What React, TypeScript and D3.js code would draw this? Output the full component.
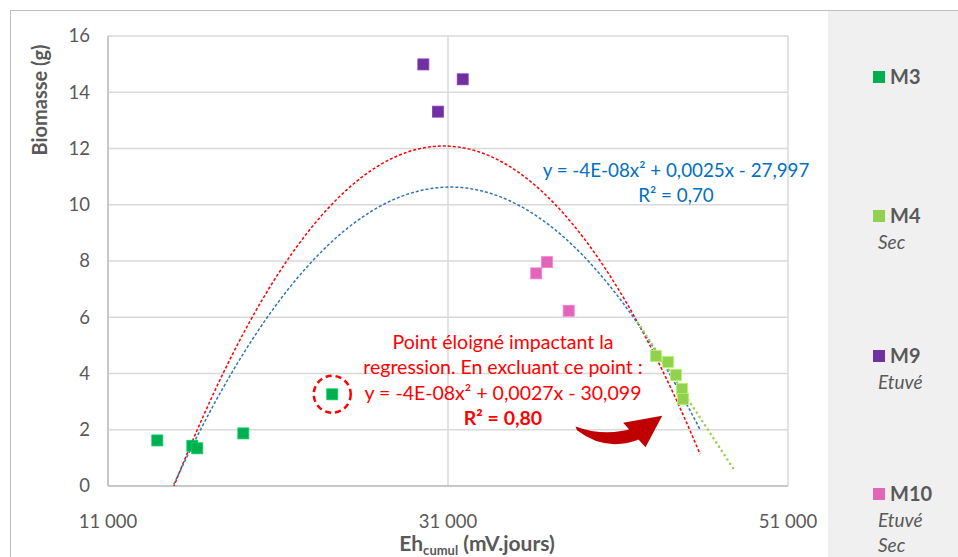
import React from "react";
import * as d3 from "d3";

// ---- data ----
const m3X = [13900, 15960, 16250, 18960, 24190];
const m3Y = [1.62, 1.43, 1.34, 1.87, 3.26];
const m4X = [43235, 43940, 44410, 44765, 44824];
const m4Y = [4.62, 4.41, 3.95, 3.45, 3.09];
const m9X = [29550, 30410, 31865];
const m9Y = [14.99, 13.31, 14.46];
const m10X = [36190, 36820, 38100];
const m10Y = [7.56, 7.96, 6.23];

const yTicks = [0, 2, 4, 6, 8, 10, 12, 14, 16];
const xTicks = [11000, 31000, 51000];

// trendlines (quadratic coefficients a, b, c and drawn x range)
const blueCoef = [-3.995e-8, 0.0024878, -28.102];
const blueRange = [13900, 45824];
const redCoef = [-4.811e-8, 0.0029572, -33.353];
const redRange = [13900, 45824];
const greenCoef = [0, -9.233e-4, 44.74];
const greenRange = [42176, 47765];

const legendNames = ["M3", "M4", "M9", "M10"];
const legendSubs = [[], ["Sec"], ["Etuvé"], ["Etuvé", "Sec"]];
const colors = ["#00b050", "#92d050", "#7030a0", "#e066b8"];

const noteLines = [
  "Point éloigné impactant la",
  "regression. En excluant ce point :",
  "y = -4E-08x² + 0,0027x - 30,099",
  "R² = 0,80",
];
const blueEq = ["y = -4E-08x² + 0,0025x - 27,997", "R² = 0,70"];

const W = 958;
const H = 557;
const FONT = "Lato, 'Open Sans', sans-serif";

export default function App() {
  const x = d3.scaleLinear().domain([11000, 51000]).range([108, 788]);
  const y = d3.scaleLinear().domain([0, 16]).range([486, 36]);
  const fmt = d3.formatLocale({ decimal: ",", thousands: " ", grouping: [3], currency: ["", ""] }).format(",d");

  const series = [
    { xs: m3X, ys: m3Y, color: colors[0] },
    { xs: m4X, ys: m4Y, color: colors[1] },
    { xs: m9X, ys: m9Y, color: colors[2] },
    { xs: m10X, ys: m10Y, color: colors[3] },
  ];

  const poly = (c: number[], r: number[]) => {
    const pts = d3.range(r[0], r[1] + 1, (r[1] - r[0]) / 200).map((v) => [v, c[0] * v * v + c[1] * v + c[2]] as [number, number]);
    return d3.line<[number, number]>().x((d) => x(d[0])).y((d) => y(d[1]))(pts) || "";
  };

  const ms = 11;
  const excl = { x: m3X[4], y: m3Y[4] };

  // arrow (annotation) in data coordinates
  const ax = (v: number) => x(v);
  const ay = (v: number) => y(v);
  const arrowBody = `M${ax(38590)},${ay(1.98)} Q${ax(40350)},${ay(1.15)} ${ax(42470)},${ay(1.72)} L${ax(42000)},${ay(2.08)} Q${ax(40300)},${ay(1.72)} ${ax(38500)},${ay(2.12)} Z`;
  const arrowHead = `M${ax(41300)},${ay(2.25)} L${ax(43600)},${ay(2.5)} L${ax(42620)},${ay(1.38)} Z`;

  return (
    <svg width={W} height={H} style={{ position: "absolute", left: 0, top: 0, background: "#fff" }} fontFamily={FONT}>
      <defs>
        <clipPath id="plotclip">
          <rect x={108} y={36} width={680} height={450} />
        </clipPath>
      </defs>
      {/* frame */}
      <rect x={828} y={11} width={130} height={546} fill="#f0f0f0" />
      <line x1={10} y1={10.5} x2={958} y2={10.5} stroke="#bfbfbf" strokeWidth={1} />
      <line x1={10.5} y1={10} x2={10.5} y2={557} stroke="#bfbfbf" strokeWidth={1} />

      {/* grid */}
      {yTicks.map((t) => (
        <line key={"gy" + t} x1={x(11000)} x2={x(51000)} y1={y(t)} y2={y(t)} stroke="#d9d9d9" strokeWidth={1.5} />
      ))}
      {xTicks.map((t) => (
        <line key={"gx" + t} x1={x(t)} x2={x(t)} y1={y(0)} y2={y(16)} stroke="#d9d9d9" strokeWidth={1.5} />
      ))}
      <line x1={x(11000)} x2={x(51000)} y1={y(0)} y2={y(0)} stroke="#bfbfbf" strokeWidth={1.5} />
      <line x1={x(11000)} x2={x(11000)} y1={y(0)} y2={y(16)} stroke="#bfbfbf" strokeWidth={1.5} />

      {/* tick labels */}
      {yTicks.map((t) => (
        <text key={"ty" + t} x={90} y={y(t)} dy="0.35em" textAnchor="end" fontSize={18.5} fill="#595959">
          {t}
        </text>
      ))}
      {xTicks.map((t) => (
        <text key={"tx" + t} x={x(t)} y={522} dy="0.35em" textAnchor="middle" fontSize={18.5} fill="#595959">
          {fmt(t)}
        </text>
      ))}

      {/* axis titles */}
      <text x={477} y={551} textAnchor="middle" fontSize={21} fontWeight="bold" fill="#595959">
        Eh<tspan fontSize={13} dy={4}>cumul</tspan>
        <tspan dy={-4}> (mV.jours)</tspan>
      </text>
      <text transform="translate(47,100) rotate(-90)" textAnchor="middle" fontSize={20} fontWeight="bold" fill="#595959">
        Biomasse (g)
      </text>

      {/* trendlines */}
      <g clipPath="url(#plotclip)" fill="none">
        <path d={poly(redCoef, redRange)} stroke="#ff0000" strokeWidth={1.5} strokeDasharray="3,2" />
        <path d={poly(blueCoef, blueRange)} stroke="#2e75b6" strokeWidth={1.5} strokeDasharray="3,2" />
        <path d={poly(greenCoef, greenRange)} stroke="#92d050" strokeWidth={2.5} strokeDasharray="0.1,5" strokeLinecap="round" />
      </g>

      {/* points */}
      {series.map((s, i) =>
        s.xs.map((v, j) => (
          <rect
            key={`p${i}-${j}`}
            x={x(v) - ms / 2}
            y={y(s.ys[j]) - ms / 2}
            width={ms}
            height={ms}
            fill={s.color}
            stroke={d3.color(s.color)!.brighter(0.5).formatHex()}
            strokeWidth={0.8}
          />
        ))
      )}

      {/* excluded point circle */}
      <circle cx={x(excl.x)} cy={y(excl.y)} r={18.5} fill="none" stroke="#ff0000" strokeWidth={2.5} strokeDasharray="6,4" />

      {/* blue equation */}
      {blueEq.map((l, i) => (
        <text key={"be" + i} x={676} y={170 + i * 25} dy="0.35em" textAnchor="middle" fontSize={18.8} fill="#0070c0">
          {l}
        </text>
      ))}

      {/* note */}
      {noteLines.map((l, i) => (
        <text
          key={"n" + i}
          x={503}
          y={342 + i * 25.5}
          dy="0.35em"
          textAnchor="middle"
          fontSize={19.5}
          fill="#ff0000"
          fontWeight={i === 3 ? "bold" : "normal"}
        >
          {l}
        </text>
      ))}

      {/* arrow */}
      <path d={arrowBody} fill="#c00000" />
      <path d={arrowHead} fill="#c00000" />

      {/* legend */}
      {legendNames.map((n, i) => {
        const cy = [77, 216, 356, 494][i];
        return (
          <g key={"lg" + i}>
            <rect x={873} y={cy - 6} width={12} height={12} fill={colors[i]} />
            <text x={890} y={cy} dy="0.35em" fontSize={20} fontWeight="bold" fill="#595959">
              {n}
            </text>
            {legendSubs[i].map((s, k) => (
              <text key={k} x={878} y={cy + 26 + k * 25} dy="0.35em" fontSize={19} fontStyle="italic" fill="#595959">
                {s}
              </text>
            ))}
          </g>
        );
      })}
    </svg>
  );
}
